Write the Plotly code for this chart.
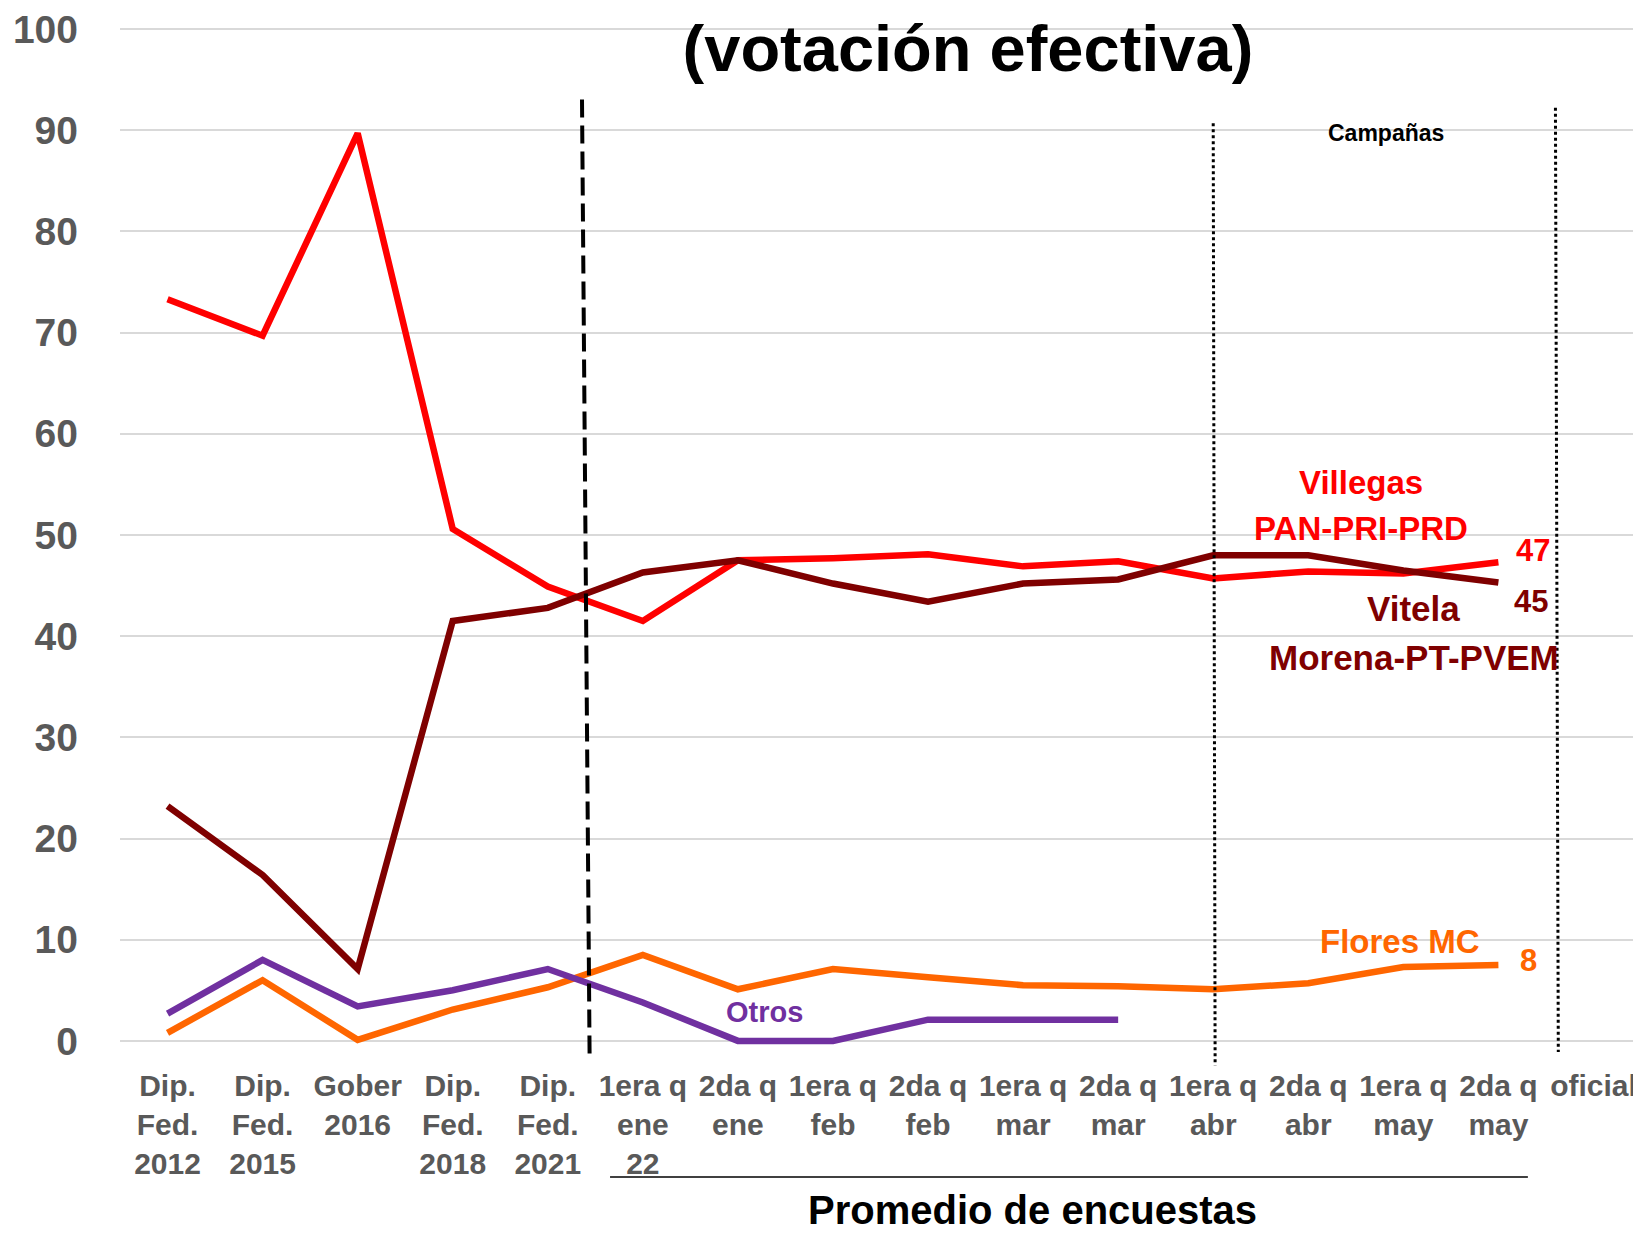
import plotly.graph_objects as go

# categorias del eje x (elecciones pasadas + promedio de encuestas)
categories = ["Dip. Fed. 2012", "Dip. Fed. 2015", "Gober 2016", "Dip. Fed. 2018",
              "Dip. Fed. 2021", "1era q ene 22", "2da q ene", "1era q feb", "2da q feb",
              "1era q mar", "2da q mar", "1era q abr", "2da q abr", "1era q may",
              "2da q may", "oficial"]
tick_labels = ["Dip.<br>Fed.<br>2012", "Dip.<br>Fed.<br>2015", "Gober<br>2016",
               "Dip.<br>Fed.<br>2018", "Dip.<br>Fed.<br>2021", "1era q<br>ene<br>22",
               "2da q<br>ene", "1era q<br>feb", "2da q<br>feb", "1era q<br>mar",
               "2da q<br>mar", "1era q<br>abr", "2da q<br>abr", "1era q<br>may",
               "2da q<br>may", "oficial"]

villegas = [73.3, 69.7, 89.7, 50.6, 44.9, 41.5, 47.5, 47.7, 48.1, 46.9, 47.4,
            45.7, 46.4, 46.2, 47.3, None]
vitela = [23.2, 16.4, 7.1, 41.5, 42.8, 46.3, 47.5, 45.2, 43.4, 45.2, 45.6,
          48.0, 48.0, 46.5, 45.3, None]
flores = [0.8, 6.0, 0.1, 3.1, 5.3, 8.5, 5.1, 7.1, 6.3, 5.5, 5.4,
          5.1, 5.7, 7.3, 7.5, None]
otros = [2.7, 8.0, 3.4, 5.0, 7.1, 3.8, 0.0, 0.0, 2.1, 2.1, 2.1,
         None, None, None, None, None]

RED = "#FF0000"
DARK = "#7F0000"
ORANGE = "#FF6600"
PURPLE = "#7030A0"
GRAY = "#595959"
FONT = "Liberation Sans, Arial, sans-serif"

fig = go.Figure()
for vals, color in [(villegas, RED), (vitela, DARK), (flores, ORANGE), (otros, PURPLE)]:
    fig.add_trace(go.Scatter(x=categories, y=vals, mode="lines",
                             line=dict(color=color, width=6.5), showlegend=False))

# lineas verticales (separadores)
fig.add_shape(type="line", xref="x", yref="paper", x0=4.36, x1=4.44, y0=0.922, y1=-0.006,
              line=dict(color="black", width=4, dash="18px,8px"))
fig.add_shape(type="line", xref="x", yref="paper", x0=11.0, x1=11.02, y0=0.899, y1=-0.014,
              line=dict(color="black", width=3, dash="3px,3px"))
fig.add_shape(type="line", xref="x", yref="paper", x0=14.6, x1=14.63, y0=0.914, y1=-0.001,
              line=dict(color="black", width=3, dash="3px,3px"))
# subrayado bajo las encuestas
fig.add_shape(type="line", xref="x", yref="paper", x0=4.655, x1=14.31, y0=-0.122, y1=-0.122,
              line=dict(color="black", width=1.5))

def label(text, x, y, color, size, yref="y"):
    fig.add_annotation(text=text, x=x, y=y, xref="x", yref=yref, showarrow=False,
                       xanchor="center", yanchor="middle",
                       font=dict(family=FONT, size=size, color=color, weight="bold"))

label("Villegas", 12.55, 55.2, RED, 33)
label("PAN-PRI-PRD", 12.55, 50.6, RED, 33)
label("47", 14.36, 48.5, RED, 31)
label("45", 14.34, 43.4, DARK, 31)
label("Vitela", 13.11, 42.7, DARK, 35)
label("Morena-PT-PVEM", 13.11, 37.9, DARK, 35)
label("Flores MC", 12.97, 9.8, ORANGE, 33)
label("8", 14.32, 7.9, ORANGE, 31)
label("Otros", 6.28, 2.9, PURPLE, 29)
label("Campañas", 12.82, 89.7, "black", 23)
label("Promedio de encuestas", 9.1, -0.154, "black", 40, yref="paper")

fig.update_layout(
    width=1641, height=1233,
    margin=dict(l=112, r=8, t=11, b=190),
    plot_bgcolor="white", paper_bgcolor="white",
    title=dict(text="(votación efectiva)", x=0.5575, xref="paper", xanchor="center",
               y=1 - 40 / 1233, yref="container", yanchor="middle",
               font=dict(family=FONT, size=65, color="black", weight="bold")),
    xaxis=dict(type="category", categoryorder="array", categoryarray=categories,
               range=[-0.5, 15.5], tickvals=categories, ticktext=tick_labels,
               tickangle=0, showgrid=False, showline=False, ticks="",
               ticklabelstandoff=14, automargin=False, ticklabeloverflow="allow",
               tickfont=dict(family=FONT, size=30, color=GRAY, weight="bold")),
    yaxis=dict(range=[-1, 101], tick0=0, dtick=10, showgrid=True, gridcolor="#D9D9D9",
               gridwidth=1.5, zeroline=False, showline=False, ticks="",
               ticklabelstandoff=41, automargin=False, ticklabeloverflow="allow",
               tickfont=dict(family=FONT, size=39, color=GRAY, weight="bold")),
)

fig.write_html("out.html")
